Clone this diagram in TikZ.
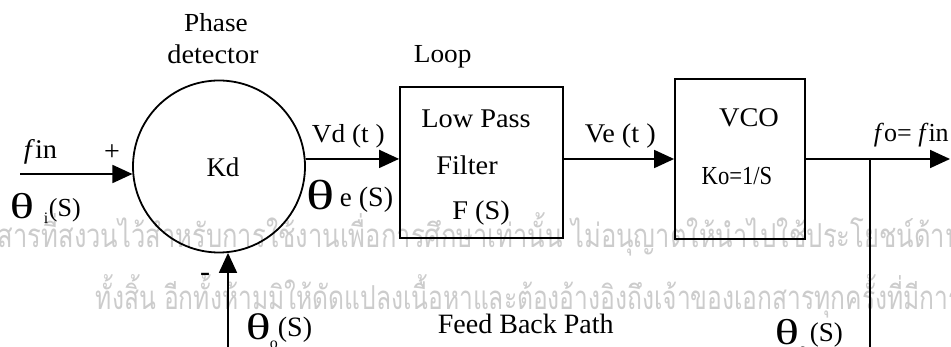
\documentclass[tikz,border=0pt]{standalone}
\usepackage{fontspec}
\setmainfont{Liberation Serif}
\newfontfamily\wide[FakeStretch=1.05]{Liberation Serif}
\newfontfamily\narrow[FakeStretch=0.87]{Liberation Serif}
\newfontfamily\thfont[FakeStretch=1.4]{Liberation Serif}
\newfontfamily\thaifontA[Script=Thai,FakeStretch=0.775]{Loma}
\newfontfamily\thaifontB[Script=Thai,FakeStretch=0.745]{Loma}
\usetikzlibrary{arrows.meta}
\newcommand\fs[1]{\fontsize{#1}{#1}\selectfont}
\begin{document}
\begin{tikzpicture}[x=1pt,y=-1pt,line width=1.8pt,
  lbl/.style={inner sep=0pt,anchor=base west},
  lblc/.style={inner sep=0pt,anchor=base},
  tip/.style={-{Triangle[length=20pt,width=18pt]}},
  blk/.style={draw,rectangle,inner sep=0pt},
  wm/.style={inner sep=0pt,anchor=base west,text=black!20}]
\useasboundingbox (0,0) rectangle (951,347);
\fill[white] (0,0) rectangle (951,347);
\begin{scope}
\clip (0,0) rectangle (951,347);
% watermark
\node[wm,font=\thaifontA\fs{33}] (wm1) at (-3,248) {\llap{เอก}สารที่สงวนไว้สำหรับการใช้งานเพื่อการศึกษาเท่านั้น ไม่อนุญาตให้นำไปใช้ประโยชน์ด้านการค้า};
\node[wm,font=\thaifontB\fs{33}] (wm2) at (95,310) {ทั้งสิ้น อีกทั้งห้ามมิให้ดัดแปลงเนื้อหาและต้องอ้างอิงถึงเจ้าของเอกสารทุกครั้งที่มีการนำไปใช้};
% blocks
\node[draw,circle,minimum size=172pt,inner sep=0pt] (pd) at (219,166.5) {};
\node[blk,minimum width=163pt,minimum height=151pt] (lpf) at (481.5,162.5) {};
\node[blk,minimum width=130pt,minimum height=160pt] (vco) at (740,159) {};
% coordinates
\coordinate (in) at (20,174);
\coordinate (out) at (950,159);
\coordinate (br) at (870,159);
\coordinate (fbR) at (870,350);
\coordinate (fbL) at (228,350);
% connectors
\draw[tip] (in) -- (in -| pd.185);
\draw[tip] (pd.5) -- (pd.5 -| lpf.west);
\draw[tip] (vco.west -| lpf.east) -- (vco.west);
\draw[tip] (vco.east) -- (out);
\draw (br) -- (fbR);
\draw[tip] (fbL) -- (fbL |- pd.276);
% texts
\node[lblc,font=\wide\fs{26}] (t1) at (216,32) {Phase};
\node[lblc,font=\wide\fs{27}] (t2) at (213,64) {detector};
\node[lbl,font=\wide\fs{26}] (t3) at (413,63) {Loop};
\node[lblc,font=\fs{27}] (t4) at (223,177) {Kd};
\node[font=\fs{28},inner sep=0pt] (t5) at (112,153) {+};
\node[lbl,font=\wide\fs{27}] (t6) at (23,159) {\textit{f}in};
\node[lbl,font=\wide\fs{26}] (t7) at (311,143) {Vd (t )};
\node[lbl,font=\wide\fs{27}] (t8) at (584,143) {Ve (t )};
\node[lbl,font=\fs{26}] (t9) at (873,142) {\textit{f}o= \textit{f}in};
\node[lblc,font=\wide\fs{27}] (t10) at (476,128) {Low Pass};
\node[lblc,font=\wide\fs{27}] (t11) at (467,175) {Filter};
\node[lblc,font=\wide\fs{27}] (t12) at (481,220) {F (S)};
\node[lblc,font=\wide\fs{27}] (t13) at (749,127) {VCO};
\node[lblc,font=\narrow\fs{26}] (t14) at (737,185) {Ko=1/S};
\node[lbl,font=\fs{28}] (t15) at (437,334) {Feed Back Path};
\node[font=\fs{30},inner sep=0pt] (t16) at (205,277) {-};
% theta i
\node[lbl,font=\thfont\fs{36}] (a1) at (9,219) {θ};
\node[lbl,font=\fs{16}] (a2) at (43,224) {i};
\node[lbl,font=\fs{26}] (a3) at (48,217) {(S)};
% theta e
\node[lbl,font=\thfont\fs{42}] (b1) at (306,210) {θ};
\node[lbl,font=\fs{27}] (b2) at (339,207) {e};
\node[lbl,font=\fs{28}] (b3) at (358,207) {(S)};
% theta o left
\node[lbl,font=\thfont\fs{37}] (c1) at (245,340) {θ};
\node[lbl,font=\fs{16}] (c2) at (269,349) {o};
\node[lbl,font=\fs{28}] (c3) at (277,337) {(S)};
% theta o right
\node[lbl,font=\thfont\fs{36}] (d1) at (774,345) {θ};
\node[lbl,font=\fs{16}] (d2) at (798,355) {o};
\node[lbl,font=\fs{27}] (d3) at (809,342) {(S)};
\end{scope}
\end{tikzpicture}
\end{document}
